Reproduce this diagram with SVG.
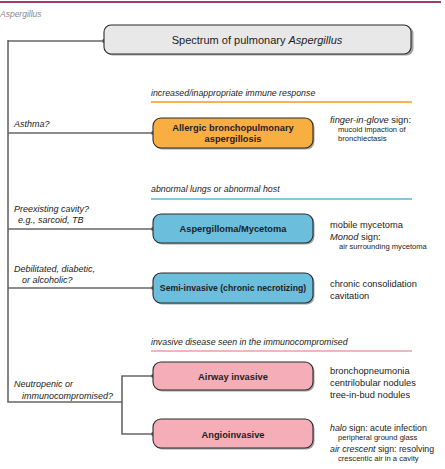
<svg xmlns="http://www.w3.org/2000/svg" width="445" height="469" viewBox="0 0 445 469">
<defs>
<style>
text{font-family:"Liberation Sans",Arial,sans-serif;fill:#222}
.lbl{font-size:9px;font-style:italic}
.hdr{font-size:8.8px;font-style:italic}
.node{stroke:#2a2a2a;stroke-width:1.1}
.shadow{fill:#555;opacity:0.55}
.nt{font-size:9.3px;font-weight:bold;text-anchor:middle}
.r1{font-size:9.3px}
.r1s{font-size:8.8px}
.r2{font-size:7.6px}
.conn{stroke:#666;stroke-width:1.6;fill:none}
.dot{fill:#666}
</style>
</defs>
<line x1="0" y1="2" x2="441" y2="2" stroke="#a13b6f" stroke-width="2"/>
<text x="0" y="17" style="font-size:8.5px;font-style:italic;fill:#888">Aspergillus</text>

<g id="connectors">
<path class="conn" d="M8,41 H104"/>
<path class="conn" d="M8,40 V402 H122"/>
<path class="conn" d="M8,133 H153"/>
<path class="conn" d="M8,229 H153"/>
<path class="conn" d="M8,288 H153"/>
<path class="conn" d="M153,376 H122 V434 H153"/>
<circle class="dot" cx="104" cy="41" r="2"/>
<circle class="dot" cx="153" cy="133" r="2"/>
<circle class="dot" cx="153" cy="229" r="2"/>
<circle class="dot" cx="153" cy="288" r="2"/>
<circle class="dot" cx="153" cy="376" r="2"/>
<circle class="dot" cx="153" cy="434" r="2"/>
</g>

<g id="title">
<rect class="shadow" x="105.5" y="26.5" width="308" height="29" rx="7"/>
<rect class="node" x="104" y="25" width="307" height="29" rx="7" fill="#e8e8e8"/>
<text x="257" y="44" style="font-size:11px;text-anchor:middle">Spectrum of pulmonary <tspan font-style="italic">Aspergillus</tspan></text>
</g>

<g id="hdr-immune">
<text class="hdr" x="151" y="96">increased/inappropriate immune response</text>
<line x1="151" y1="102" x2="412" y2="102" stroke="#f39a1e" stroke-width="1.6"/>
</g>
<g id="hdr-abnormal">
<text class="hdr" x="151" y="192">abnormal lungs or abnormal host</text>
<line x1="151" y1="199" x2="412" y2="199" stroke="#5ab5d8" stroke-width="1.6"/>
</g>
<g id="hdr-invasive">
<text class="hdr" x="151" y="345">invasive disease seen in the immunocompromised</text>
<line x1="151" y1="351" x2="412" y2="351" stroke="#f09ba7" stroke-width="1.6"/>
</g>

<g id="labels">
<text class="lbl" x="14" y="127">Asthma?</text>
<text class="lbl" x="14" y="212">Preexisting cavity?</text>
<text class="lbl" x="18" y="223">e.g., sarcoid, TB</text>
<text class="lbl" x="14" y="272">Debilitated, diabetic,</text>
<text class="lbl" x="22" y="283">or alcoholic?</text>
<text class="lbl" x="14" y="387">Neutropenic or</text>
<text class="lbl" x="22" y="398.5">immunocompromised?</text>
</g>

<g id="abpa">
<rect class="shadow" x="154.5" y="119.5" width="160" height="30" rx="8"/>
<rect class="node" x="153" y="118" width="160" height="30" rx="8" fill="#f9ae42"/>
<text class="nt" x="233" y="131">Allergic bronchopulmonary</text>
<text class="nt" x="233" y="142">aspergillosis</text>
<text class="r1" x="330" y="123"><tspan font-style="italic">finger-in-glove</tspan> sign:</text>
<text class="r2" x="338" y="132">mucoid impaction of</text>
<text class="r2" x="338" y="141">bronchiectasis</text>
</g>

<g id="aspergilloma">
<rect class="shadow" x="154.5" y="215.5" width="160" height="29" rx="8"/>
<rect class="node" x="153" y="214" width="160" height="29" rx="8" fill="#6bbedc"/>
<text class="nt" x="233" y="232">Aspergilloma/Mycetoma</text>
<text class="r1" x="330" y="228">mobile mycetoma</text>
<text class="r1" x="330" y="240"><tspan font-style="italic">Monod</tspan> sign:</text>
<text class="r2" x="339" y="249">air surrounding mycetoma</text>
</g>

<g id="semi-invasive">
<rect class="shadow" x="154.5" y="274.5" width="160" height="30" rx="8"/>
<rect class="node" x="153" y="273" width="160" height="30" rx="8" fill="#6bbedc"/>
<text class="nt" x="233" y="291" style="font-size:8.7px">Semi-invasive (chronic necrotizing)</text>
<text class="r1" x="330" y="287">chronic consolidation</text>
<text class="r1" x="330" y="299">cavitation</text>
</g>

<g id="airway">
<rect class="shadow" x="154.5" y="363.5" width="160" height="28" rx="8"/>
<rect class="node" x="153" y="362" width="160" height="28" rx="8" fill="#f5aeb7"/>
<text class="nt" x="233" y="380">Airway invasive</text>
<text class="r1" x="330" y="374">bronchopneumonia</text>
<text class="r1" x="330" y="386">centrilobular nodules</text>
<text class="r1" x="330" y="398">tree-in-bud nodules</text>
</g>

<g id="angio">
<rect class="shadow" x="154.5" y="420.5" width="160" height="29" rx="8"/>
<rect class="node" x="153" y="419" width="160" height="29" rx="8" fill="#f5aeb7"/>
<text class="nt" x="233" y="438">Angioinvasive</text>
<text class="r1s" x="330" y="431"><tspan font-style="italic">halo</tspan> sign: acute infection</text>
<text class="r2" x="338" y="440">peripheral ground glass</text>
<text class="r1s" x="330" y="452"><tspan font-style="italic">air crescent</tspan> sign: resolving</text>
<text class="r2" x="338" y="461">crescentic air in a cavity</text>
</g>
</svg>
